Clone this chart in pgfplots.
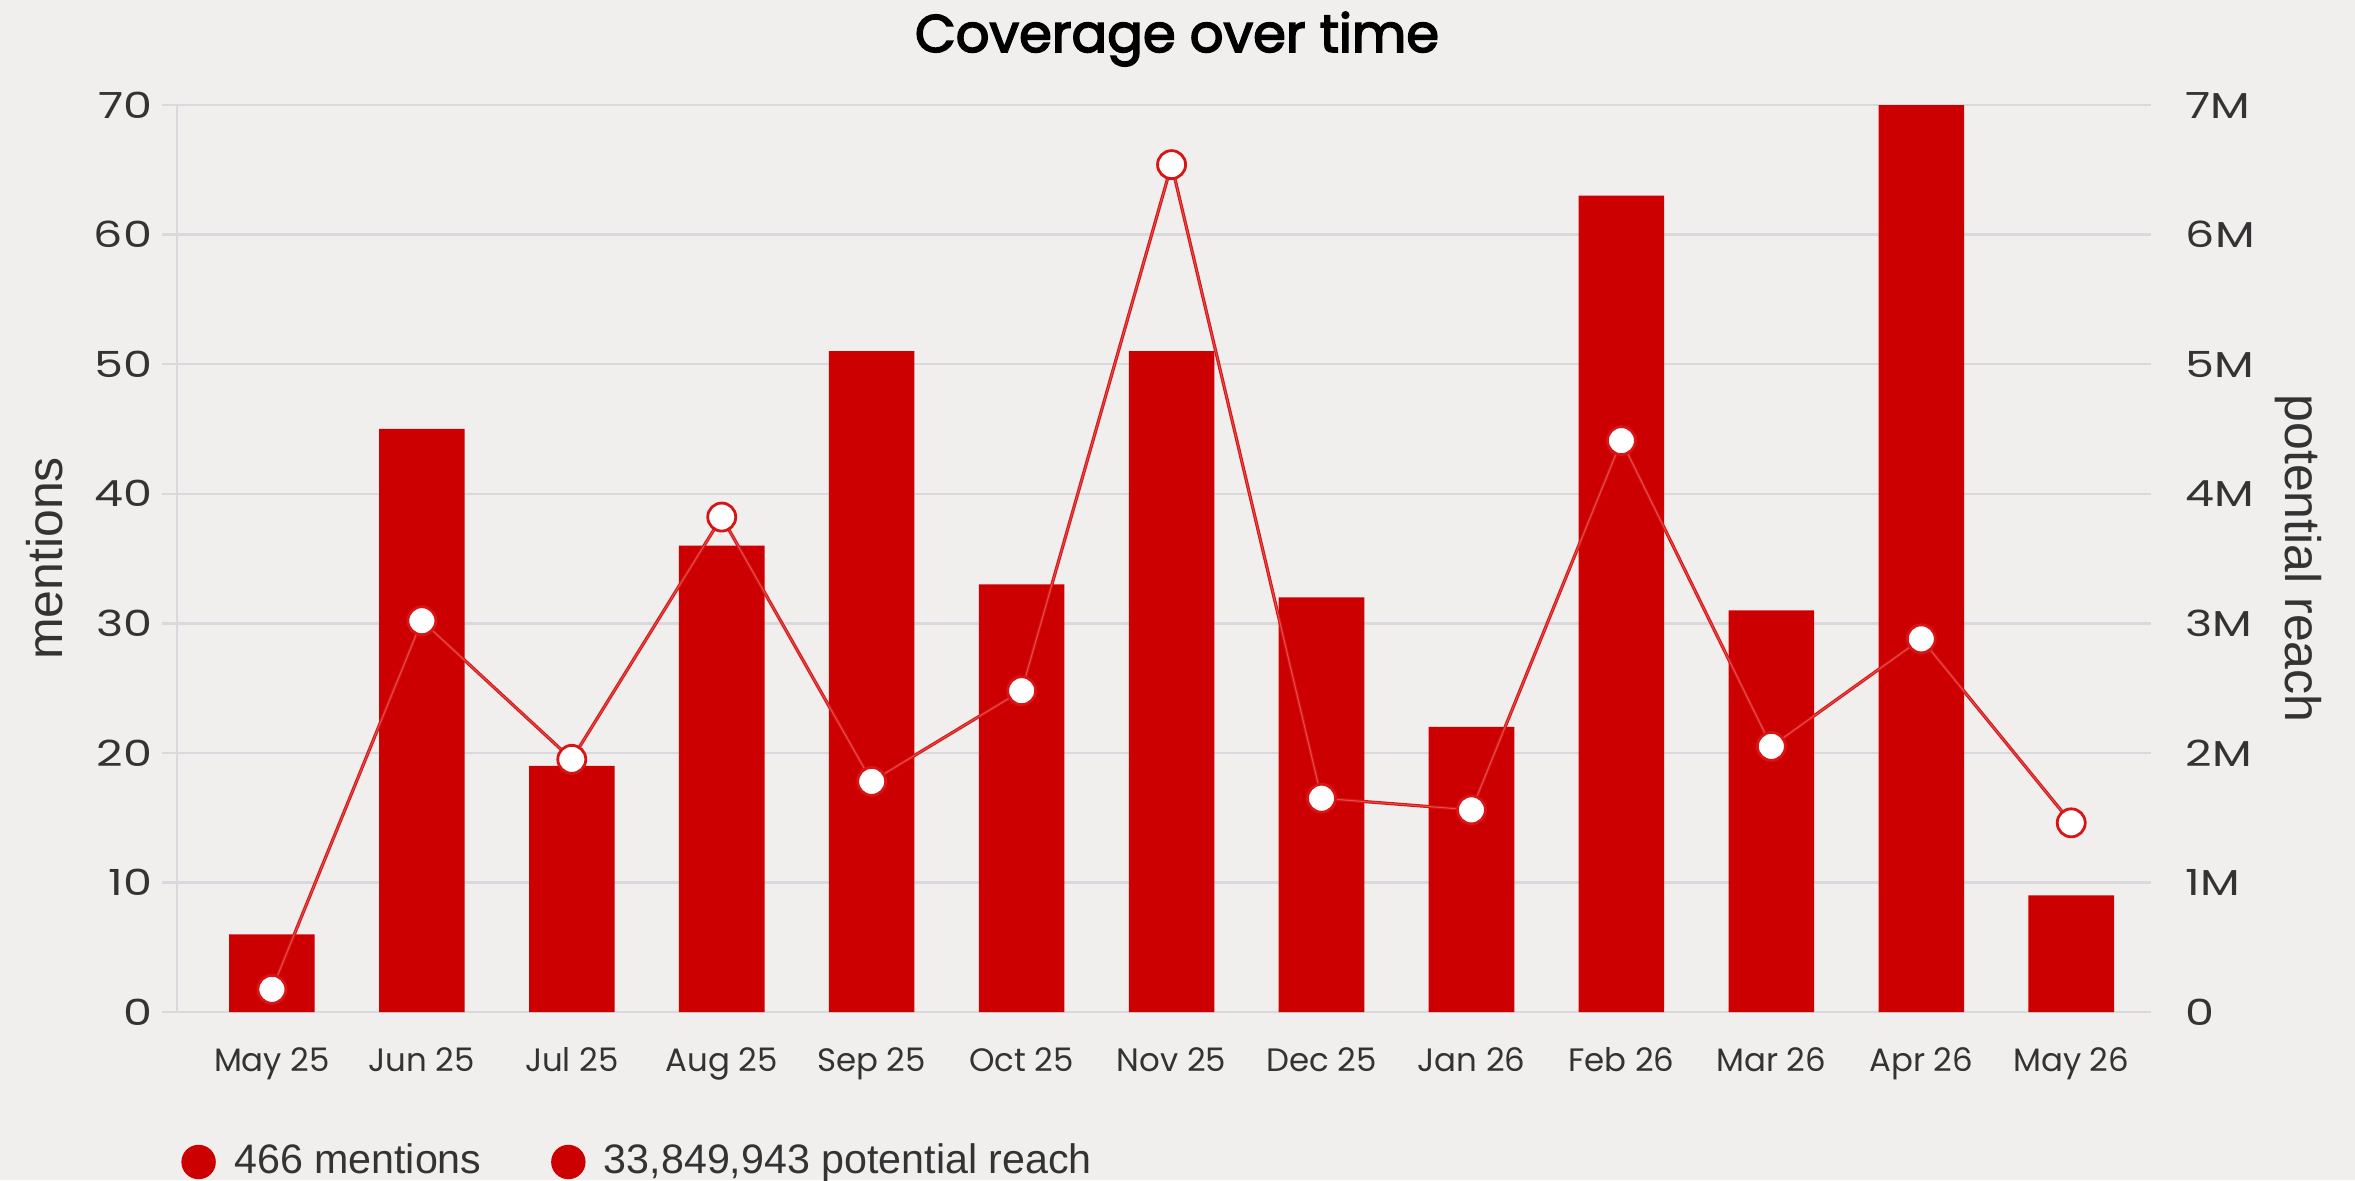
\documentclass[border=0pt]{standalone}
\usepackage{pgfplots}
\pgfplotsset{compat=1.18}
\usepackage{pgfplotstable}
\usepackage{fontspec}
\setmainfont{Poppins}
\newfontfamily\labelfont{Liberation Sans}
\newfontfamily\ytickfont{Poppins}[FakeStretch=1.28]
\newfontfamily\titlefont{Poppins}[FakeBold=3]
\definecolor{bgc}{HTML}{F0EFEE}
\definecolor{gridc}{HTML}{D9D9DD}
\definecolor{barred}{HTML}{CC0000}
\definecolor{linered}{HTML}{D81414}
\definecolor{txt}{HTML}{333333}

\pgfplotstableread{
idx mentions reach
0  6  175000
1  45 3020000
2  19 1950000
3  36 3820000
4  51 1780000
5  33 2480000
6  51 6540000
7  32 1650000
8  22 1560000
9  63 4410000
10 31 2050000
11 70 2880000
12 9  1460000
}\datatable

\begin{document}
\begin{tikzpicture}
\path[use as bounding box, fill=bgc] (-44.25pt,-42pt) rectangle (544.5pt,253pt);
\begin{axis}[
  at={(0pt,0pt)}, anchor=south west,
  scale only axis, width=493.5pt, height=226.75pt,
  xmin=-0.633, xmax=12.532, ymin=0, ymax=70,
  axis lines*=left, axis line style={-, draw=gridc, line width=0.6pt},
  xtick={0,1,2,3,4,5,6,7,8,9,10,11,12},
  xticklabels={May 25,Jun 25,Jul 25,Aug 25,Sep 25,Oct 25,Nov 25,Dec 25,Jan 26,Feb 26,Mar 26,Apr 26,May 26},
  x tick style={draw=none},
  ytick={0,10,20,30,40,50,60,70},
  y tick style={draw=gridc, line width=0.6pt},
  tick align=outside, major tick length=3.75pt,
  ymajorgrids, grid style={draw=gridc, line width=0.6pt},
  /pgf/number format/assume math mode=true,
  xticklabel style={anchor=base, yshift=-11.1pt, font=\fontsize{8.1}{10}\selectfont, text=txt},
  yticklabel style={anchor=east, inner sep=0pt, xshift=-2.25pt, font=\ytickfont\fontsize{9}{10}\selectfont, text=txt},
  ylabel={mentions},
  every axis y label/.style={at={(axis description cs:-0.0669,0.5)}, anchor=center, rotate=90, font=\labelfont\fontsize{12.5}{14}\selectfont, text=txt},
  title={Coverage over time},
  every axis title/.style={at={(axis description cs:0.5,1)}, anchor=center, yshift=16.5pt, xshift=3.25pt, font=\titlefont\fontsize{13.2}{15}\selectfont, text=black},
  ybar, bar width=21.4pt,
]
\addplot[fill=barred, draw=none] table[x=idx, y=mentions] {\datatable};
\end{axis}
\begin{axis}[
  at={(0pt,0pt)}, anchor=south west,
  scale only axis, width=493.5pt, height=226.75pt,
  xmin=-0.633, xmax=12.532, ymin=0, ymax=7000000,
  axis x line=none, xtick=\empty,
  axis y line*=right, y axis line style={draw=none},
  ytick={0,1000000,2000000,3000000,4000000,5000000,6000000,7000000},
  yticklabels={0,1M,2M,3M,4M,5M,6M,7M},
  scaled y ticks=false,
  y tick style={draw=none},
  yticklabel style={anchor=west, inner sep=0pt, xshift=8.5pt, font=\ytickfont\fontsize{9}{10}\selectfont, text=txt},
  ylabel={potential reach},
  every axis y label/.style={at={(axis description cs:1.0745,0.5)}, anchor=center, rotate=-90, font=\labelfont\fontsize{12.5}{14}\selectfont, text=txt},
  legend columns=2,
  legend image code/.code={\fill[barred] (0pt,0pt) circle (4.1pt);},
  legend style={at={(axis description cs:0,0)}, anchor=west, xshift=1.1pt, yshift=-37.5pt, draw=none, fill=none, inner sep=0pt, outer sep=0pt, nodes={inner sep=0pt}, font=\labelfont\fontsize{10.3}{12}\selectfont, text=txt,
    /tikz/every odd column/.append style={column sep=4.6pt},
    /tikz/every even column/.append style={column sep=17.4pt}},
  legend cell align=left,
]
\addplot[linered, line width=0.8pt, line join=round, mark=none, forget plot] table[x=idx, y=reach] {\datatable};
\addplot[white, opacity=0.25, line width=0.25pt, mark=none, forget plot] table[x=idx, y=reach] {\datatable};
\addplot[only marks, mark=*, mark size=3.5pt, mark options={fill=white, draw=linered, line width=0.7pt}, forget plot] table[x=idx, y=reach] {\datatable};
\addlegendimage{}
\addlegendentry{466 mentions}
\addlegendimage{}
\addlegendentry{33,849,943 potential reach}
\end{axis}
\end{tikzpicture}
\end{document}
